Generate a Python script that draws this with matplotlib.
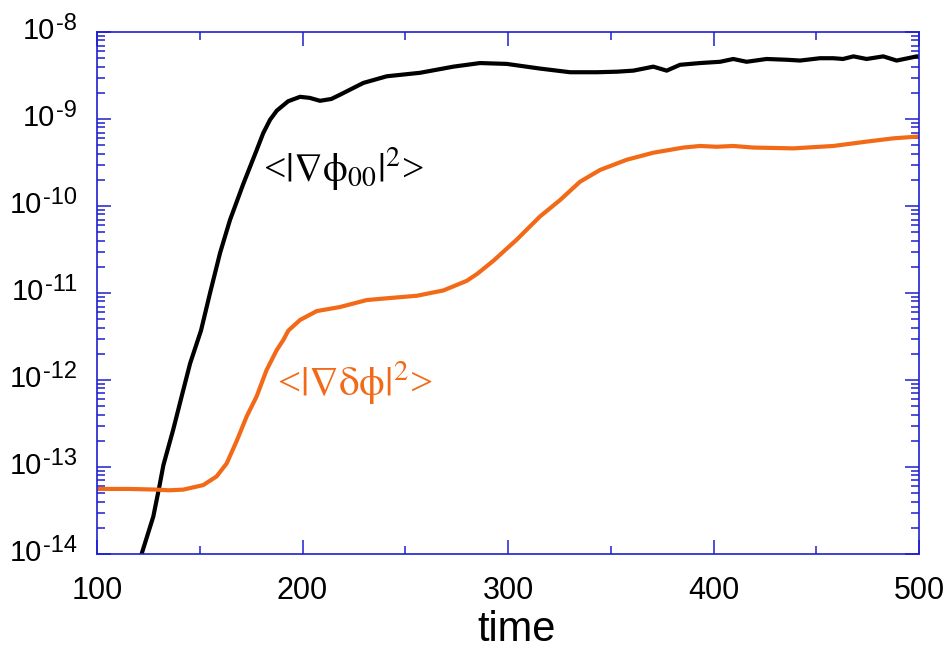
import math
import matplotlib
matplotlib.use("Agg")
import matplotlib.pyplot as plt
from matplotlib.ticker import LogLocator, MultipleLocator, NullFormatter

plt.rcParams["font.family"] = ["Liberation Sans", "DejaVu Sans"]
plt.rcParams["mathtext.fontset"] = "stix"

# <|grad phi_00|^2>  (zonal flow energy)
t_zonal = [121.7, 127.4, 130.3, 132.3, 137.1, 141.2, 145.3, 150.6, 155.0, 159.9,
           164.7, 171.2, 177.7, 180.9, 184.2, 187.5, 193.0, 198.8, 203.5, 208.5,
           214.0, 218.2, 229.6, 241.0, 257.2, 273.4, 286.4, 299.4, 315.6, 330.2,
           343.2, 353.0, 361.0, 366.0, 370.7, 377.2, 383.7, 393.4, 403.2, 409.6,
           416.1, 425.8, 435.6, 442.1, 451.8, 458.3, 463.0, 468.1, 474.5, 482.6,
           489.1, 498.9, 500.0]
e_zonal = [1.0e-14, 2.7e-14, 5.9e-14, 1.05e-13, 2.7e-13, 6.5e-13, 1.55e-12, 3.7e-12, 1.0e-11, 2.9e-11,
           6.9e-11, 1.8e-10, 4.4e-10, 6.9e-10, 9.8e-10, 1.25e-9, 1.6e-9, 1.8e-9, 1.75e-9, 1.62e-9,
           1.7e-9, 1.9e-9, 2.6e-9, 3.1e-9, 3.4e-9, 4.0e-9, 4.4e-9, 4.3e-9, 3.8e-9, 3.45e-9,
           3.45e-9, 3.5e-9, 3.6e-9, 3.8e-9, 4.0e-9, 3.6e-9, 4.2e-9, 4.4e-9, 4.55e-9, 4.9e-9,
           4.55e-9, 4.9e-9, 4.8e-9, 4.7e-9, 5.0e-9, 5.0e-9, 4.9e-9, 5.25e-9, 4.9e-9, 5.25e-9,
           4.7e-9, 5.25e-9, 5.2e-9]

# <|grad delta phi|^2>  (fluctuation energy)
t_fluct = [100.0, 116.0, 129.0, 135.0, 142.0, 151.7, 158.2, 163.1, 168.0, 172.8,
           177.7, 182.5, 187.4, 190.7, 193.1, 198.8, 206.9, 218.2, 231.2, 241.0,
           255.6, 268.5, 279.9, 285.0, 292.9, 298.5, 304.2, 315.6, 325.3, 335.0,
           344.8, 357.7, 370.7, 385.3, 393.4, 401.5, 409.6, 419.3, 438.8, 458.3,
           474.5, 487.5, 500.0]
e_fluct = [5.6e-14, 5.6e-14, 5.5e-14, 5.4e-14, 5.5e-14, 6.2e-14, 7.8e-14, 1.1e-13, 2.0e-13, 3.8e-13,
           6.5e-13, 1.3e-12, 2.2e-12, 2.9e-12, 3.7e-12, 4.9e-12, 6.2e-12, 6.9e-12, 8.3e-12, 8.7e-12,
           9.3e-12, 1.07e-11, 1.38e-11, 1.66e-11, 2.35e-11, 3.1e-11, 4.1e-11, 7.6e-11, 1.17e-10, 1.9e-10,
           2.6e-10, 3.4e-10, 4.1e-10, 4.7e-10, 4.9e-10, 4.8e-10, 4.9e-10, 4.7e-10, 4.6e-10, 4.9e-10,
           5.5e-10, 6.0e-10, 6.3e-10]

y_decades = [1e-14, 1e-13, 1e-12, 1e-11, 1e-10, 1e-9, 1e-8]

BLUE = "#1f1fd0"
ORANGE = "#f26a18"

fig = plt.figure(figsize=(9.51, 6.59), dpi=100)
ax = fig.add_axes([0.102, 0.1593, 0.8644, 0.7921])

ax.plot(t_zonal, e_zonal, color="black", lw=3.0, solid_joinstyle="round")
ax.plot(t_fluct, e_fluct, color=ORANGE, lw=3.0, solid_joinstyle="round")

ax.set_yscale("log")
ax.set_xlim(100, 500)
ax.set_ylim(1e-14, 1e-8)

ax.xaxis.set_major_locator(MultipleLocator(100))
ax.xaxis.set_minor_locator(MultipleLocator(50))
ax.yaxis.set_major_locator(LogLocator(base=10, numticks=10))
ax.yaxis.set_minor_locator(LogLocator(base=10, subs=range(2, 10), numticks=10))
ax.yaxis.set_major_formatter(NullFormatter())
ax.yaxis.set_minor_formatter(NullFormatter())

for s in ax.spines.values():
    s.set_color(BLUE)
    s.set_linewidth(1.2)

ax.tick_params(which="both", direction="in", top=True, right=True, color=BLUE, width=1.1)
ax.tick_params(which="major", length=10)
ax.tick_params(which="minor", length=6)
ax.tick_params(axis="x", which="major", labelsize=22, pad=16)

# decade labels: big "10" with a large hyphenated exponent
for v in y_decades:
    exp = ax.annotate("-%d" % round(-math.log10(v)), xy=(0, v),
                      xycoords=("axes fraction", "data"), xytext=(-14.5, 1.5),
                      textcoords="offset points", ha="right", va="baseline", fontsize=17)
    ax.annotate("10", xy=(0, 0), xycoords=exp, xytext=(-0.5, -6.9),
                textcoords="offset points", ha="right", va="bottom", fontsize=21)

ax.set_xlabel("time", fontsize=30)
ax.xaxis.label.set_va("center")
ax.xaxis.set_label_coords(0.51, -0.1455)

ax.text(180.8, 1.95e-10, r"<$|\nabla\mathrm{\phi}_{00}|^{2}$>", color="black",
        fontsize=28.5, family="Liberation Serif", va="baseline", ha="left")
ax.text(187.6, 6.8e-13, r"<$|\nabla\mathrm{\delta\phi}|^{2}$>", color=ORANGE,
        fontsize=29.5, family="Liberation Serif", va="baseline", ha="left")

fig.savefig("out.png", dpi=100)
